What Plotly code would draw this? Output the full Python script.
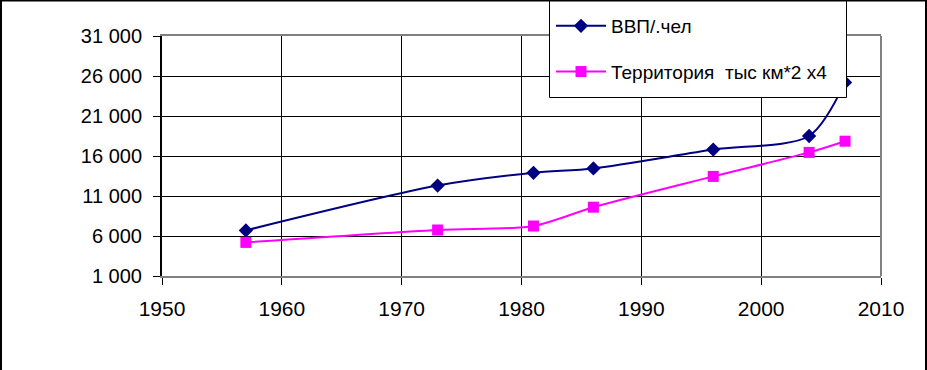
import plotly.graph_objects as go

years = [1957, 1973, 1981, 1986, 1996, 2004, 2007]
gdp_per_capita = [6700, 12300, 13900, 14450, 16800, 18500, 25200]
territory_x4 = [5200, 6750, 7250, 9600, 13450, 16450, 17850]

name_gdp = "ВВП/.чел"
name_terr = "Территория  тыс км*2 x4"

y_ticks = [1000, 6000, 11000, 16000, 21000, 26000, 31000]
y_labels = ["1 000", "6 000", "11 000", "16 000", "21 000", "26 000", "31 000"]
x_ticks = [1950, 1960, 1970, 1980, 1990, 2000, 2010]

W, H = 927, 370
L, R, T, B = 162, 46, 36, 94
pw, ph = W - L - R, H - T - B


def px_x(p):
    return (p - L) / pw


def px_y(p):
    return (H - B - p) / ph


fig = go.Figure()
fig.add_trace(go.Scatter(
    x=years, y=gdp_per_capita, name=name_gdp, mode="lines+markers",
    line=dict(color="#000080", width=2, shape="spline", smoothing=0.8),
    marker=dict(symbol="diamond", size=11, color="#000080"),
    legendgroup="a",
))
fig.add_trace(go.Scatter(
    x=years, y=territory_x4, name=name_terr, mode="lines+markers",
    line=dict(color="#FF00FF", width=2, shape="spline", smoothing=0.8),
    marker=dict(symbol="square", size=11, color="#FF00FF"),
    legendgroup="b",
))

font = "Liberation Sans, Arial, sans-serif"

fig.update_layout(
    width=W, height=H,
    margin=dict(l=L, r=R, t=T, b=B, pad=0, autoexpand=False),
    paper_bgcolor="white", plot_bgcolor="white",
    font=dict(family=font, size=20, color="black"),
    showlegend=True,
    legend=dict(
        x=px_x(551), y=px_y(7), xanchor="left", yanchor="top",
        bgcolor="rgba(0,0,0,0)", borderwidth=0,
        font=dict(family=font, size=19, color="black"),
        traceorder="grouped", tracegroupgap=18, itemwidth=50,
    ),
    xaxis=dict(
        range=[1950, 2010], tickvals=x_ticks, ticktext=[str(v) for v in x_ticks],
        showgrid=True, gridcolor="black", gridwidth=1,
        showline=True, linecolor="#808080", linewidth=2, mirror=True,
        ticks="outside", ticklen=7, tickcolor="black", tickwidth=1,
        tickfont=dict(size=21), zeroline=False, ticklabelstandoff=6,
    ),
    yaxis=dict(
        range=[1000, 31000], tickvals=y_ticks, ticktext=y_labels,
        showgrid=True, gridcolor="black", gridwidth=1,
        showline=True, linecolor="black", linewidth=2,
        ticks="outside", ticklen=7, tickcolor="black", tickwidth=1,
        tickfont=dict(size=20), zeroline=False, ticklabelstandoff=7,
    ),
    shapes=[
        dict(type="line", xref="paper", yref="paper", x0=1, x1=1, y0=0, y1=1,
             line=dict(color="#808080", width=2)),
        dict(type="rect", xref="paper", yref="paper",
             x0=px_x(549.5), x1=px_x(846.5), y0=px_y(97.5), y1=px_y(-2),
             line=dict(color="black", width=1), fillcolor="white", layer="above"),
        dict(type="rect", xref="paper", yref="paper",
             x0=px_x(1), x1=px_x(W - 1), y0=px_y(H + 30), y1=px_y(0.5),
             line=dict(color="black", width=2), layer="above"),
    ],
)

fig.write_html(
    "out.html",
    config={"displayModeBar": False},
    post_script="document.body.style.margin='0';document.body.style.padding='0';"
                "document.documentElement.style.margin='0';",
)
